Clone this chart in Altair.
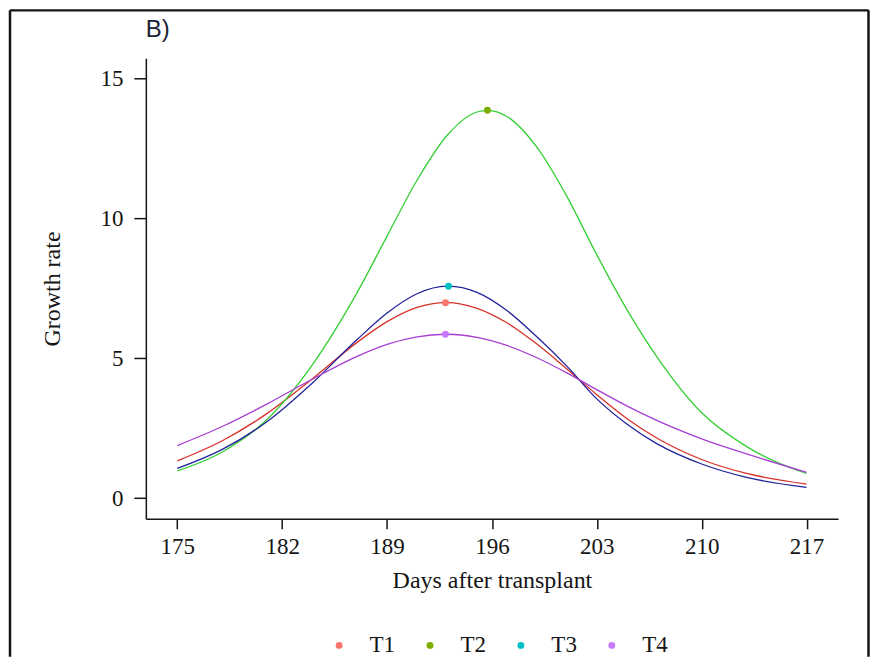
import altair as alt
import pandas as pd

# ---- data ----
treatments = ["T1", "T2", "T3", "T4"]
days = [175, 178, 181, 184, 187, 189, 191, 193, 195, 197, 199, 201, 203, 205, 207, 210, 213, 217]
t1 = [1.33, 2.05, 3.03, 4.26, 5.57, 6.31, 6.82, 6.99, 6.79, 6.27, 5.51, 4.62, 3.70, 2.85, 2.15, 1.38, 0.88, 0.50]
t2 = [0.97, 1.65, 2.82, 4.76, 7.35, 9.37, 11.37, 12.97, 13.81, 13.65, 12.55, 10.79, 8.70, 6.75, 5.06, 3.05, 1.84, 0.88]
t3 = [1.06, 1.74, 2.74, 4.11, 5.67, 6.62, 7.31, 7.58, 7.36, 6.71, 5.77, 4.72, 3.55, 2.65, 1.95, 1.22, 0.74, 0.38]
t4 = [1.88, 2.56, 3.37, 4.25, 5.07, 5.50, 5.77, 5.86, 5.75, 5.46, 5.02, 4.48, 3.88, 3.30, 2.78, 2.12, 1.58, 0.92]
peak_day = [192.9, 195.7, 193.1, 192.9]
peak_val = [6.99, 13.87, 7.58, 5.86]
x_ticks = [175, 182, 189, 196, 203, 210, 217]
y_ticks = [0, 5, 10, 15]
panel_label = "B)"

# ---- styles ----
line_colors = ["#d8312a", "#35cf35", "#22229c", "#a63fd2"]
point_colors = ["#F8766D", "#7CAE00", "#00BFC4", "#C77CFF"]
SERIF = "Liberation Serif"
SANS = "Liberation Sans"
INK = "#151515"

rows = []
for name, vals in zip(treatments, [t1, t2, t3, t4]):
    for d, v in zip(days, vals):
        rows.append({"day": d, "rate": v, "treatment": name})
for name, d, v in zip(treatments, peak_day, peak_val):
    rows.append({"day": d, "rate": v, "treatment": name})
lines_df = pd.DataFrame(rows).sort_values(["treatment", "day"]).reset_index(drop=True)
peaks_df = pd.DataFrame({"day": peak_day, "rate": peak_val, "treatment": treatments})

xs = alt.Scale(domain=[172.9, 219.1], nice=False, zero=False)
ys = alt.Scale(domain=[-0.74, 15.73], nice=False, zero=False)

x_axis = alt.Axis(values=x_ticks, title="Days after transplant", grid=False,
                  domainColor=INK, domainWidth=1.5, tickColor=INK, tickWidth=1.5, tickSize=10,
                  labelFont=SERIF, labelFontSize=23, labelColor=INK, labelPadding=7,
                  titleFont=SERIF, titleFontSize=24, titleFontWeight="normal", titleColor=INK,
                  titlePadding=10)
y_axis = alt.Axis(values=y_ticks, title="Growth rate", grid=False,
                  domainColor=INK, domainWidth=1.5, tickColor=INK, tickWidth=1.5, tickSize=12,
                  labelFont=SERIF, labelFontSize=23, labelColor=INK, labelPadding=11,
                  titleFont=SERIF, titleFontSize=24, titleFontWeight="normal", titleColor=INK,
                  titlePadding=35)

lines = alt.Chart(lines_df).mark_line(interpolate="monotone", strokeWidth=1.3).encode(
    x=alt.X("day:Q", scale=xs, axis=x_axis),
    y=alt.Y("rate:Q", scale=ys, axis=y_axis),
    color=alt.Color("treatment:N", scale=alt.Scale(domain=treatments, range=line_colors), legend=None),
    order=alt.Order("day:Q"),
)

points = alt.Chart(peaks_df).mark_circle(size=48, opacity=1).encode(
    x=alt.X("day:Q", scale=xs, axis=x_axis),
    y=alt.Y("rate:Q", scale=ys, axis=y_axis),
    color=alt.Color("treatment:N", scale=alt.Scale(domain=treatments, range=point_colors),
                    legend=alt.Legend(title=None, orient="none", legendX=182, legendY=576,
                                      direction="horizontal", columns=4, symbolType="circle",
                                      symbolSize=48, symbolStrokeWidth=0, symbolOpacity=1,
                                      labelFont=SERIF, labelFontSize=23, labelColor=INK,
                                      labelOffset=19, columnPadding=23, padding=0)),
)

frame_df = pd.DataFrame({"k": [0]})
frame_top = alt.Chart(frame_df).mark_rule(color=INK, strokeWidth=2.5).encode(
    x=alt.value(-136), x2=alt.value(723.5), y=alt.value(-48))
frame_left = alt.Chart(frame_df).mark_rule(color=INK, strokeWidth=2.5).encode(
    x=alt.value(-136), y=alt.value(-48), y2=alt.value(599))
frame_right = alt.Chart(frame_df).mark_rule(color=INK, strokeWidth=2.5).encode(
    x=alt.value(723.5), y=alt.value(-48), y2=alt.value(599))

label_df = pd.DataFrame({"label": [panel_label]})
panel = alt.Chart(label_df).mark_text(font=SANS, fontSize=24, align="left", baseline="alphabetic",
                                      color="#1a2233").encode(
    text="label:N", x=alt.value(0), y=alt.value(-21))

chart = alt.layer(lines, points, frame_top, frame_left, frame_right, panel).resolve_scale(
    color="independent"
).properties(
    width=693, height=461, padding=0, background="white",
).configure_view(strokeWidth=0)

chart.save("out.html", embed_options={"renderer": "svg", "actions": False})
